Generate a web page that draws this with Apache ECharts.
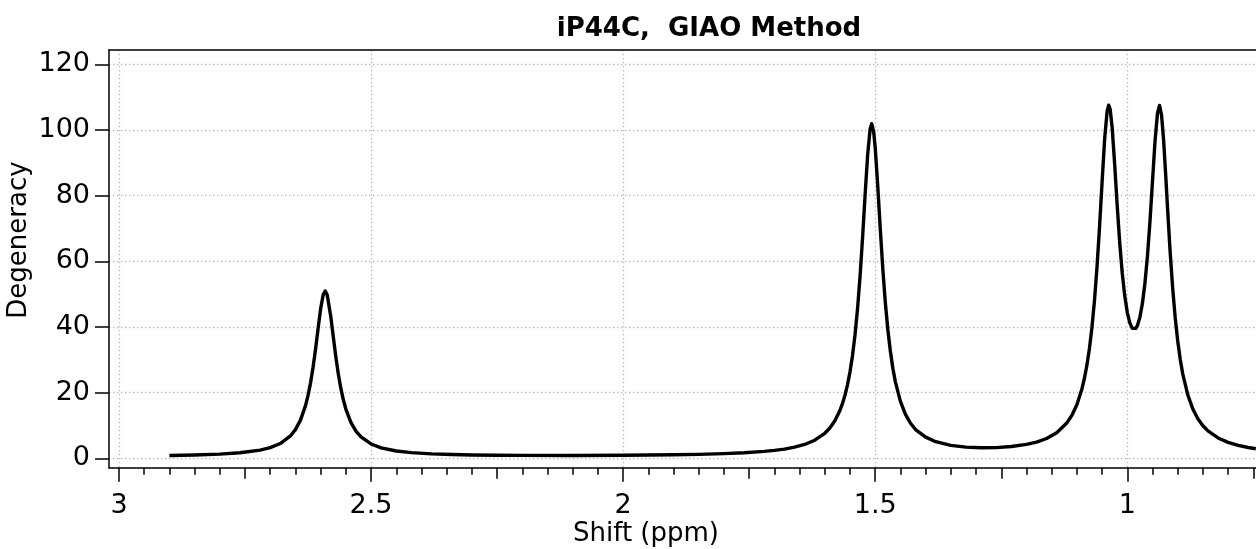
<!DOCTYPE html>
<html><head><meta charset="utf-8">
<script src="https://cdn.jsdelivr.net/npm/echarts@6/dist/echarts.min.js"></script>
<style>html,body{margin:0;padding:0;background:#fff}#c{width:1256px;height:549px}</style>
</head><body><div id="c"></div>
<script>
// ---- data ----
const shiftPpm = [
  2.90, 2.85, 2.80, 2.76, 2.72, 2.70, 2.68, 2.66, 2.65, 2.64, 2.63, 2.625, 2.62, 2.615, 2.61, 2.605, 2.60, 2.595, 2.591, 2.587,
  2.58, 2.575, 2.57, 2.565, 2.56, 2.555, 2.55, 2.54, 2.53, 2.52, 2.50, 2.48, 2.45, 2.42, 2.38, 2.34, 2.30, 2.25, 2.20, 2.10,
  2.00, 1.90, 1.85, 1.80, 1.76, 1.72, 1.70, 1.68, 1.66, 1.64, 1.62, 1.60, 1.59, 1.58, 1.57, 1.565, 1.56, 1.555, 1.55, 1.545,
  1.54, 1.535, 1.53, 1.525, 1.52, 1.515, 1.51, 1.507, 1.503, 1.50, 1.495, 1.49, 1.485, 1.48, 1.475, 1.47, 1.465, 1.46, 1.45, 1.44,
  1.43, 1.42, 1.40, 1.38, 1.35, 1.32, 1.29, 1.26, 1.23, 1.20, 1.18, 1.16, 1.14, 1.12, 1.11, 1.10, 1.09, 1.085, 1.08, 1.075,
  1.07, 1.065, 1.06, 1.055, 1.05, 1.045, 1.04, 1.037, 1.034, 1.03, 1.025, 1.02, 1.015, 1.01, 1.005, 1.00, 0.995, 0.99, 0.9865, 0.983,
  0.98, 0.975, 0.97, 0.965, 0.96, 0.955, 0.95, 0.945, 0.94, 0.936, 0.932, 0.928, 0.924, 0.92, 0.915, 0.91, 0.905, 0.90, 0.895, 0.89,
  0.88, 0.87, 0.86, 0.85, 0.84, 0.82, 0.80, 0.78, 0.76, 0.745
];
const degeneracy = [
  0.87, 1.03, 1.29, 1.70, 2.51, 3.25, 4.50, 6.81, 8.75, 11.62, 16.06, 19.15, 23.0, 27.76, 33.4, 39.6, 45.55, 49.78, 50.95, 49.78,
  43.3, 37.1, 31.05, 25.75, 21.36, 17.83, 15.0, 10.95, 8.3, 6.52, 4.37, 3.19, 2.23, 1.72, 1.34, 1.14, 1.01, 0.94, 0.88, 0.87,
  0.93, 1.08, 1.21, 1.42, 1.68, 2.10, 2.40, 2.81, 3.39, 4.22, 5.51, 7.62, 9.22, 11.42, 14.57, 16.66, 19.21, 22.38, 26.35, 31.35,
  37.67, 45.65, 55.55, 67.35, 80.35, 92.45, 100.4, 101.94, 99.4, 94.6, 83.03, 70.0, 57.87, 47.58, 39.24, 32.67, 27.44, 23.3, 17.32, 13.37,
  10.68, 8.76, 6.44, 5.06, 3.94, 3.41, 3.22, 3.27, 3.58, 4.23, 4.93, 6.03, 7.78, 10.74, 13.07, 16.33, 21.13, 24.39, 28.44, 33.55,
  40.01, 48.17, 58.36, 70.58, 84.15, 97.06, 105.75, 107.55, 106.37, 100.72, 89.46, 76.96, 65.6, 56.4, 49.42, 44.46, 41.26, 39.58, 39.24, 39.58,
  40.41, 42.98, 47.2, 53.32, 61.61, 72.14, 84.39, 96.53, 105.29, 107.47, 104.44, 96.97, 86.81, 75.84, 62.9, 51.87, 42.92, 35.82, 30.2, 25.73,
  19.3, 15.02, 12.05, 9.93, 8.35, 6.2, 4.85, 3.94, 3.29, 2.92
];
const xMajorTicks = [3, 2.5, 2, 1.5, 1];
const xMediumTicks = [2.75, 2.25, 1.75, 1.25, 0.75];
const xMinorTicks = [2.95, 2.9, 2.85, 2.8, 2.7, 2.65, 2.6, 2.55, 2.45, 2.4, 2.35, 2.3, 2.2, 2.15, 2.1, 2.05,
  1.95, 1.9, 1.85, 1.8, 1.7, 1.65, 1.6, 1.55, 1.45, 1.4, 1.35, 1.3, 1.2, 1.15, 1.1, 1.05, 0.95, 0.9, 0.85, 0.8];
const yTicks = [0, 20, 40, 60, 80, 100, 120];
const titleText = 'iP44C,  GIAO Method';
const xName = 'Shift (ppm)';
const yName = 'Degeneracy';

// ---- chart ----
const FONT = '"DejaVu Sans", sans-serif';
const X_MIN = 0.7447, X_MAX = 3.0198, Y_MIN = -2.86, Y_MAX = 124.37;
const gridDot = {color: '#b5b5b5', width: 1.3, type: [1.3, 2.7]};
const tickStyle = {color: '#000', width: 1.5};
function xAxisDef(ticks, len, extra) {
  return Object.assign({
    type: 'value', gridIndex: 0, position: 'bottom', min: X_MIN, max: X_MAX, inverse: true,
    axisLine: {show: false, onZero: false},
    axisTick: {show: true, inside: false, customValues: ticks, length: len, lineStyle: tickStyle},
    axisLabel: {show: false},
    splitLine: {show: false}
  }, extra || {});
}
const chart = echarts.init(document.getElementById('c'), null, {renderer: 'canvas', width: 1256, height: 549});
chart.setOption({
  animation: false,
  backgroundColor: '#fff',
  grid: {left: 109, top: 50, right: 0, bottom: 81.3, show: false, containLabel: false},
  title: {
    text: titleText, left: 709, top: 16, textAlign: 'center', padding: 0,
    textStyle: {fontFamily: FONT, fontWeight: 'bold', fontSize: 26, color: '#000'}
  },
  xAxis: [
    xAxisDef(xMajorTicks, 14, {
      axisLine: {show: true, onZero: false, lineStyle: {color: '#000', width: 1.5}},
      axisLabel: {show: true, customValues: xMajorTicks, fontFamily: FONT, fontSize: 27, color: '#000', margin: 25},
      splitLine: {show: true, lineStyle: gridDot}
    }),
    xAxisDef(xMediumTicks, 11),
    xAxisDef(xMinorTicks, 7),
    xAxisDef([], 0, {position: 'top', axisTick: {show: false}, axisLine: {show: true, onZero: false, lineStyle: {color: '#000', width: 1.5}}})
  ],
  yAxis: {
    type: 'value', min: Y_MIN, max: Y_MAX,
    axisLine: {show: true, onZero: false, lineStyle: {color: '#000', width: 1.5}},
    axisTick: {show: true, customValues: yTicks, length: 14, lineStyle: tickStyle},
    axisLabel: {customValues: yTicks, fontFamily: FONT, fontSize: 27, color: '#000', margin: 19},
    splitLine: {show: true, lineStyle: gridDot}
  },
  graphic: [
    {type: 'text', x: 646, y: 534, style: {text: xName, font: '26px "DejaVu Sans"', fill: '#000', align: 'center', verticalAlign: 'middle'}},
    {type: 'text', x: 19, y: 240, rotation: Math.PI / 2, style: {text: yName, font: '26px "DejaVu Sans"', fill: '#000', align: 'center', verticalAlign: 'middle'}}
  ],
  series: [{
    type: 'line', xAxisIndex: 0, yAxisIndex: 0,
    data: shiftPpm.map((x, i) => [x, degeneracy[i]]),
    showSymbol: false, symbol: 'none', smooth: false, clip: true,
    lineStyle: {color: '#000', width: 3.4, join: 'round'}, z: 5
  }]
});
</script>
</body></html>
